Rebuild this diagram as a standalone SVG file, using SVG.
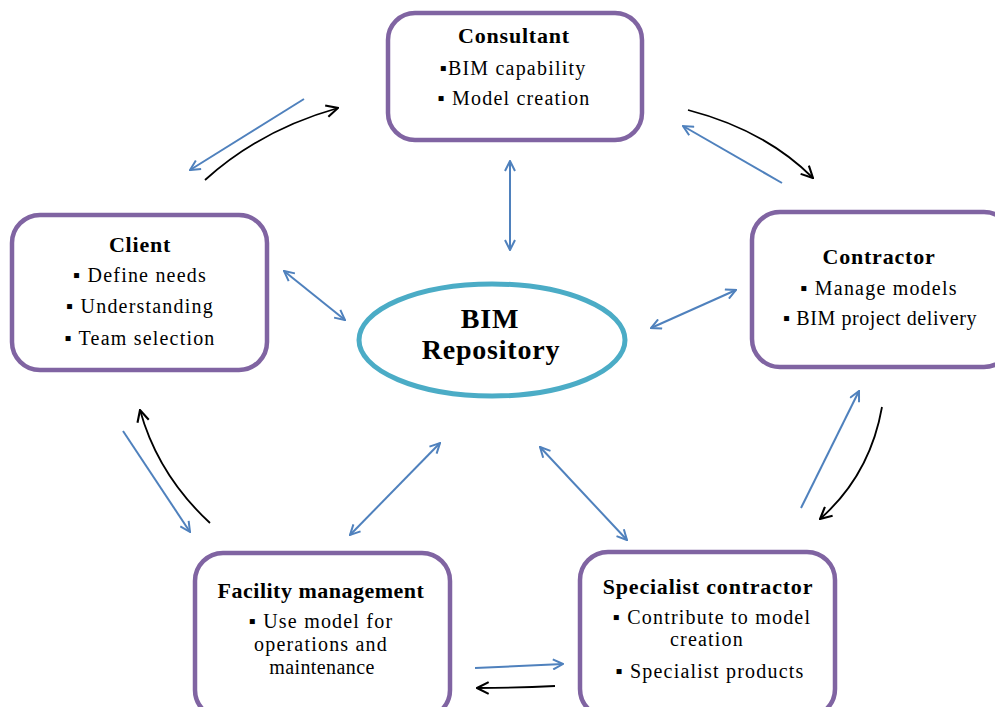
<svg xmlns="http://www.w3.org/2000/svg" width="995" height="707" viewBox="0 0 995 707">
<defs>
<marker id="hb" viewBox="0 0 12 12" refX="11" refY="6" markerWidth="12" markerHeight="12" markerUnits="userSpaceOnUse" orient="auto-start-reverse">
<path d="M1,1 L11,6 L1,11" fill="none" stroke="#4F81BD" stroke-width="2"/>
</marker>
<marker id="hk" viewBox="0 0 12 12" refX="11" refY="6" markerWidth="14" markerHeight="14" markerUnits="userSpaceOnUse" orient="auto-start-reverse">
<path d="M1,1 L11,6 L1,11" fill="none" stroke="#000" stroke-width="1.8"/>
</marker>
</defs>
<style>
.box{fill:#fff;stroke:#8064A2;stroke-width:4.5}
.t{font-family:"Liberation Serif","Times New Roman",serif;font-weight:bold;font-size:22px;text-anchor:middle;fill:#000;letter-spacing:0.8px}
.i{font-family:"Liberation Serif","Times New Roman",serif;font-size:20px;text-anchor:middle;fill:#000;letter-spacing:1.2px}
.b{fill:none;stroke:#4F81BD;stroke-width:2}
.k{fill:none;stroke:#000;stroke-width:1.8}
</style>
<rect width="995" height="707" fill="#fff"/>
<g id="consultant">
<rect class="box" x="388" y="13" width="254" height="127" rx="27"/>
<text class="t" x="514" y="43">Consultant</text>
<text class="i" x="513" y="75">▪BIM capability</text>
<text class="i" x="514" y="105">▪ Model creation</text>
</g>
<g id="client">
<rect class="box" x="12" y="215" width="255" height="155" rx="28"/>
<text class="t" x="140" y="252">Client</text>
<text class="i" x="140" y="282">▪ Define needs</text>
<text class="i" x="140" y="313">▪ Understanding</text>
<text class="i" x="140" y="345">▪ Team selection</text>
</g>
<g id="contractor">
<rect class="box" x="752" y="212" width="260" height="155" rx="28"/>
<text class="t" x="879" y="264">Contractor</text>
<text class="i" x="879" y="295">▪ Manage models</text>
<text class="i" x="880" y="325" style="letter-spacing:0.6px">▪ BIM project delivery</text>
</g>
<g id="facility">
<rect class="box" x="195" y="553" width="255" height="165" rx="28"/>
<text class="t" x="321" y="598" style="letter-spacing:0.5px">Facility management</text>
<text class="i" x="321" y="628">▪ Use model for</text>
<text class="i" x="321" y="651">operations and</text>
<text class="i" x="322" y="674" style="letter-spacing:0.4px">maintenance</text>
</g>
<g id="specialist">
<rect class="box" x="580" y="552" width="255" height="165" rx="28"/>
<text class="t" x="708" y="594">Specialist contractor</text>
<text class="i" x="712" y="624">▪ Contribute to model</text>
<text class="i" x="707" y="646">creation</text>
<text class="i" x="710" y="678">▪ Specialist products</text>
</g>
<g id="repository">
<ellipse cx="492" cy="340" rx="133" ry="56" fill="#fff" stroke="#4BACC6" stroke-width="5"/>
<text class="t" x="490" y="328" style="font-size:28px">BIM</text>
<text class="t" x="491" y="359" style="font-size:28px">Repository</text>
</g>
<g id="connectors">
<line class="b" x1="304" y1="99" x2="190" y2="170" marker-end="url(#hb)"/>
<path class="k" d="M205,180 Q260,130 338,108" marker-end="url(#hk)"/>
<path class="k" d="M688,110 Q765,130 813,178" marker-end="url(#hk)"/>
<line class="b" x1="782" y1="183" x2="683" y2="126" marker-end="url(#hb)"/>
<line class="b" x1="510" y1="161" x2="510" y2="250" marker-start="url(#hb)" marker-end="url(#hb)"/>
<line class="b" x1="284" y1="271" x2="345" y2="320" marker-start="url(#hb)" marker-end="url(#hb)"/>
<line class="b" x1="651" y1="328" x2="736" y2="290" marker-start="url(#hb)" marker-end="url(#hb)"/>
<line class="b" x1="123" y1="431" x2="190" y2="532" marker-end="url(#hb)"/>
<path class="k" d="M210,523 Q158,475 140,410" marker-end="url(#hk)"/>
<line class="b" x1="801" y1="508" x2="859" y2="391" marker-end="url(#hb)"/>
<path class="k" d="M882,407 Q870,475 820,519" marker-end="url(#hk)"/>
<line class="b" x1="440" y1="443" x2="350" y2="535" marker-start="url(#hb)" marker-end="url(#hb)"/>
<line class="b" x1="540" y1="447" x2="627" y2="540" marker-start="url(#hb)" marker-end="url(#hb)"/>
<line class="b" x1="475" y1="668" x2="563" y2="664" marker-end="url(#hb)"/>
<path class="k" d="M555,686 Q520,688 477,688" marker-end="url(#hk)"/>
</g>
</svg>
